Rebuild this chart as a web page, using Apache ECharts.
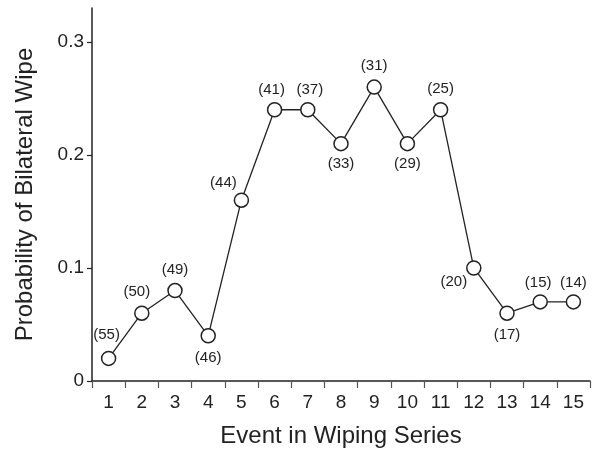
<!DOCTYPE html>
<html>
<head>
<meta charset="utf-8">
<script src="https://cdn.jsdelivr.net/npm/echarts@6/dist/echarts.min.js"></script>
<style>html,body{margin:0;padding:0;background:#fff}#c{width:598px;height:453px}</style>
</head>
<body>
<div id="c"></div>
<script>
var categories = ['1','2','3','4','5','6','7','8','9','10','11','12','13','14','15'];
var probability = [0.02,0.06,0.08,0.04,0.16,0.24,0.24,0.21,0.26,0.21,0.24,0.10,0.06,0.07,0.07];
var counts = [55,50,49,46,44,41,37,33,31,29,25,20,17,15,14];
var yTicks = [0,0.1,0.2,0.3];

// label placement per point (style, not data)
var labelOffsets = [[-2,-24],[-5,-21],[0,-21],[0,22],[-18,-17],[-3,-20],[2,-20],[0,20],[0,-21],[0,20],[0,-21],[-20,14],[0,22],[-2,-19],[0,-19]];

var FONT = '"Liberation Sans", Arial, Helvetica, sans-serif';
var seriesData = probability.map(function(v,i){
  return {
    value: v,
    label: {
      show: true,
      position: 'inside',
      offset: labelOffsets[i],
      formatter: '(' + counts[i] + ')'
    }
  };
});

var chart = echarts.init(document.getElementById('c'), null, {renderer:'canvas'});
chart.setOption({
  animation: false,
  backgroundColor: '#fff',
  grid: {left: 92, right: 8, top: 8, bottom: 71, containLabel: false},
  xAxis: {
    type: 'category',
    data: categories,
    boundaryGap: true,
    name: 'Event in Wiping Series',
    nameLocation: 'middle',
    nameGap: 43,
    nameTextStyle: {fontFamily: FONT, fontSize: 24, color: '#222'},
    axisLine: {lineStyle: {color: '#222', width: 1.5}},
    axisTick: {show: true, alignWithLabel: false, length: 7, lineStyle: {color: '#555', width: 1.2}},
    axisLabel: {margin: 12, fontFamily: FONT, fontSize: 19, color: '#222'},
    splitLine: {show: false}
  },
  yAxis: {
    type: 'value',
    min: 0,
    max: 0.33,
    interval: 0.1,
    name: 'Probability of Bilateral Wipe',
    nameLocation: 'middle',
    nameGap: 55,
    nameTextStyle: {fontFamily: FONT, fontSize: 24, color: '#222'},
    axisLine: {show: true, lineStyle: {color: '#222', width: 1.5}},
    axisTick: {show: true, length: 5, customValues: yTicks, lineStyle: {color: '#222', width: 1.2}},
    axisLabel: {margin: 8, fontFamily: FONT, fontSize: 19, color: '#222', customValues: yTicks},
    splitLine: {show: false}
  },
  series: [{
    type: 'line',
    data: seriesData,
    symbol: 'circle',
    symbolSize: 14,
    showAllSymbol: true,
    lineStyle: {color: '#222', width: 1.3},
    itemStyle: {color: '#fff', borderColor: '#222', borderWidth: 1.5},
    label: {fontFamily: FONT, fontSize: 15, color: '#222'},
    z: 3
  }]
});
</script>
</body>
</html>
